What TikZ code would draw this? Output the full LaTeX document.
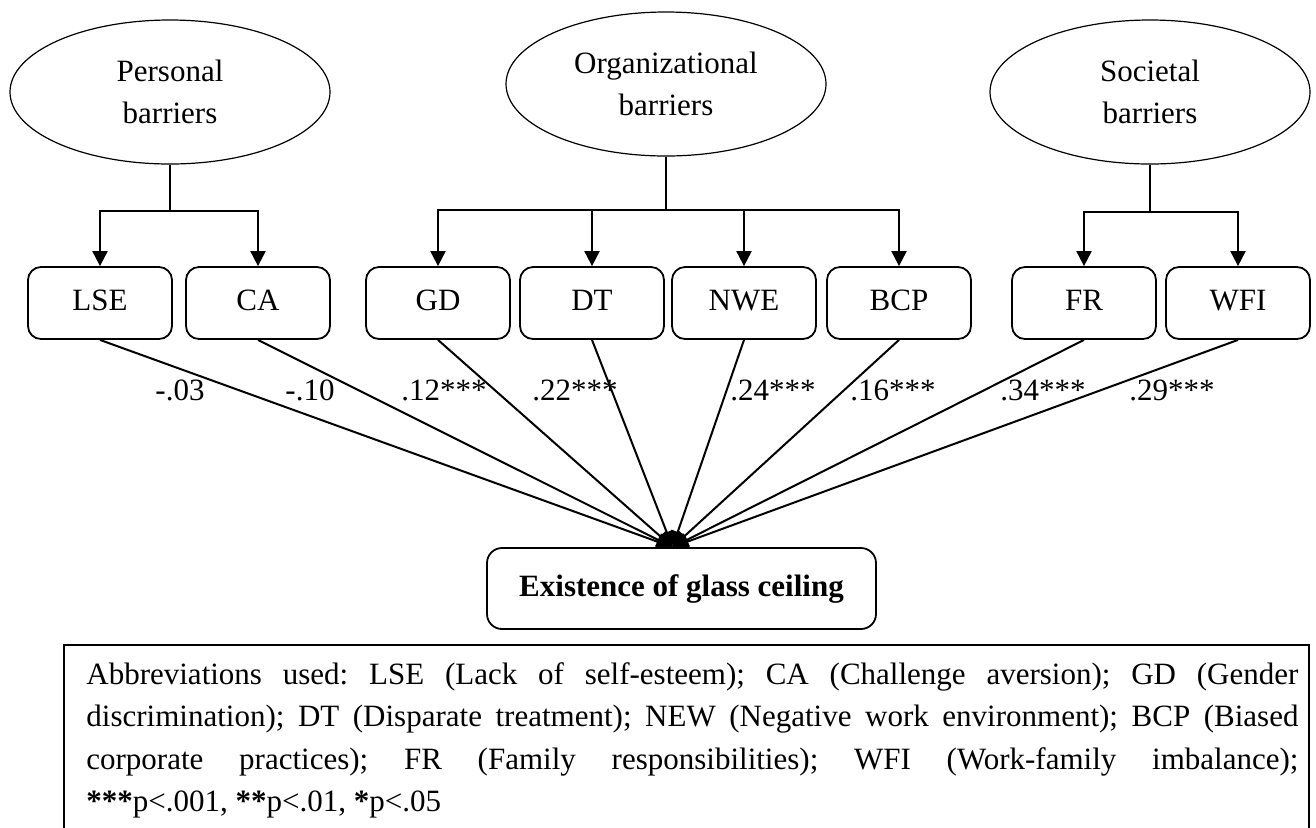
\documentclass[tikz,border=0pt]{standalone}
\usepackage{fontspec}
\setmainfont{Liberation Serif}
\usetikzlibrary{shapes.geometric,arrows.meta,positioning}

\begin{document}
\begin{tikzpicture}[x=0.5pt,y=-0.5pt,
  barrier/.style={ellipse, draw, line width=0.6pt, minimum width=160pt, minimum height=72pt,
    inner sep=0pt, align=center, font=\fontsize{15.5}{21}\selectfont},
  factor/.style={draw, rounded corners=6.5pt, line width=0.9pt, minimum width=72pt,
    minimum height=36pt, inner sep=0pt, text height=8pt, text depth=1pt,
    font=\fontsize{15.5}{19}\selectfont},
  outcome/.style={draw, rounded corners=7.5pt, line width=0.9pt, minimum width=194.5pt,
    minimum height=40.5pt, inner sep=0pt, font=\fontsize{15.5}{19}\selectfont\bfseries},
  coef/.style={anchor=base, inner sep=0pt, font=\fontsize{15.5}{19}\selectfont},
  stem/.style={line width=1pt},
  link/.style={line width=1pt, -{Triangle[length=7.5pt,width=7.5pt]}},
  fanline/.style={line width=1pt, -{Triangle[length=8pt,width=7pt]}}]
\useasboundingbox (0,0) rectangle (1316,827);
% barrier groups
\node[barrier] (pers) at (170,92) {Personal\\barriers};
\node[barrier] (org) at (666,84) {Organizational\\barriers};
\node[barrier] (soc) at (1150,92) {Societal\\barriers};
% barrier factors
\node[factor] (lse) at (100,303) {LSE};
\node[factor] (ca) at (258,303) {CA};
\node[factor] (gd) at (438,303) {GD};
\node[factor] (dt) at (592,303) {DT};
\node[factor] (nwe) at (744,303) {NWE};
\node[factor] (bcp) at (899,303) {BCP};
\node[factor] (fr) at (1084,303) {FR};
\node[factor] (wfi) at (1238,303) {WFI};
% outcome
\node[outcome] (res) at (681.5,588.5) {Existence of glass ceiling};
\coordinate (hub) at ([xshift=-4.5pt]res.north);
% group to factor
\coordinate[below=23pt of pers] (pj);
\coordinate[below=26.5pt of org] (oj);
\coordinate[below=23.5pt of soc] (sj);
\draw[stem] (pers) -- (pj);
\draw[stem] (org) -- (oj);
\draw[stem] (soc) -- (sj);
\draw[link] (pj) -| (lse);
\draw[link] (pj) -| (ca);
\draw[link] (oj) -| (gd);
\draw[link] (oj) -| (dt);
\draw[link] (oj) -| (nwe);
\draw[link] (oj) -| (bcp);
\draw[link] (sj) -| (fr);
\draw[link] (sj) -| (wfi);
% paths to outcome
\foreach \f in {lse,ca,gd,dt,nwe,bcp,fr,wfi}
  \draw[fanline] (\f.south) -- (hub);
\node[coef] (c1) at (180,400) {-.03};
\node[coef] (c2) at (310,400) {-.10};
\node[coef] (c3) at (444,400) {.12***};
\node[coef] (c4) at (575,400) {.22***};
\node[coef] (c5) at (773,400) {.24***};
\node[coef] (c6) at (893,400) {.16***};
\node[coef] (c7) at (1043,400) {.34***};
\node[coef] (c8) at (1172,400) {.29***};
% abbreviations
\draw[line width=0.9pt] (64,835) |- (1309,645) -- (1309,835);
\node[anchor=north west, inner sep=0pt, text width=606pt, align=justify,
  font=\fontsize{15.5}{21.25}\selectfont] (abbr) at (86,662)
  {\frenchspacing\tolerance=9999 Abbreviations used: LSE (Lack of self-esteem); CA (Challenge aversion); GD (Gender\linebreak
  discrimination); DT (Disparate treatment); NEW (Negative work environment); BCP (Biased\linebreak
  corporate practices); FR (Family responsibilities); WFI (Work-family imbalance);\linebreak
  \textbf{***}p<.001, \textbf{**}p<.01, \textbf{*}p<.05};
\end{tikzpicture}
\end{document}
